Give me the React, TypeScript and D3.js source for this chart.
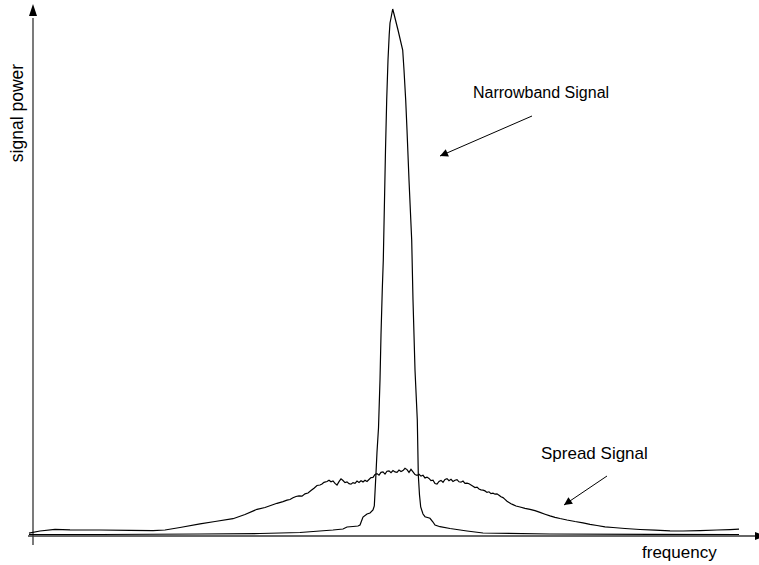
import React from "react";
import * as d3 from "d3";

// Narrowband signal: frequency (arbitrary units) and power
const narrowFreq = [
  -4, 67, 167, 227, 267, 300, 310, 314, 320, 325, 327, 330, 334, 337, 340, 341.3,
  343, 344, 345.5, 347, 348, 349.3, 350.3, 351.5, 352.5, 353.7, 355, 356.2, 357, 358,
  359.7, 361, 365, 369.7, 371, 372.7, 374, 376, 378.7, 380, 382, 384.3, 385.3, 386.5,
  387.7, 390, 392, 397, 400, 402, 407, 417, 434, 450, 517, 617, 706,
];
const narrowPower = [
  1.5, 1.5, 2, 2.5, 3.5, 6, 7, 9, 9.5, 10, 11, 19, 22, 23, 26, 30,
  63, 84, 108, 156, 201, 247, 276, 336, 386, 436, 476, 501, 513, 518,
  527, 522, 506, 486, 466, 436, 406, 356, 296, 236, 166, 116, 61, 41,
  29, 22, 19.3, 17.7, 14, 11, 9.3, 7.5, 5, 3, 2, 1.7, 1.5,
];

// Spread-spectrum signal: same band, power spread wide and low
const spreadFreq = [
  -4, 7, 22, 37, 67, 97, 120, 132, 147, 167, 182, 200, 212, 224, 232, 244,
  250, 254, 257, 260, 263, 266, 269, 272, 275, 278, 281, 284, 287, 289, 291, 294,
  296, 298, 300, 302, 304, 306, 308, 310, 312, 314, 316, 318, 320, 322, 324, 326,
  328, 330, 332, 334, 336, 338, 340, 342, 344, 346, 348, 350, 352, 354, 356, 358,
  360, 362, 364, 366, 368, 370, 372, 374, 376, 378, 380, 382, 384, 386, 388, 390,
  392, 394, 396, 398, 400, 402, 404, 406, 408, 410, 412, 414, 416, 418, 420, 422,
  424, 426, 428, 430, 432, 434, 436, 438, 440, 442, 444, 446, 448, 450, 452, 454,
  456, 458, 460, 462, 464, 466, 468, 470, 472, 474, 476, 478, 480, 483, 487, 492,
  497, 502, 507, 512, 517, 522, 527, 534, 542, 550, 557, 564, 572, 580, 592, 607,
  622, 637, 650, 667, 684, 697, 706,
];
const spreadPower = [
  2.8, 5, 6.7, 6.2, 6, 5.7, 5.3, 6, 8.5, 12.2, 14.5, 17.3, 21.5, 26.7, 28.5, 32.7,
  34.4, 35.8, 36.5, 38.2, 39.5, 40.1, 39.8, 42.2, 43, 45.5, 47.8, 50.5, 51, 52, 53.7, 54.5,
  55.8, 54.2, 55.1, 52.6, 51, 54.4, 57.2, 55.5, 53.4, 54.1, 52.4, 51.8, 53.4, 52.7, 54.9, 53.5,
  55.2, 54.1, 55.8, 54.6, 56.5, 58.4, 58.6, 61.5, 62.4, 60.8, 63.6, 64.1, 61.9, 64.8, 65.2, 63.4,
  65.5, 64.1, 63.7, 65.9, 64.5, 65.4, 67.7, 66.4, 63.6, 66.7, 64.2, 61.4, 60.6, 61.8, 59.9, 60.7,
  58.1, 58.9, 57.6, 55.4, 55.8, 52.5, 51.9, 54.5, 55.6, 53.7, 56.6, 57.4, 55.3, 56.7, 54.5, 55.8,
  56.4, 54.2, 53.8, 55, 52.6, 52.9, 52.2, 51.1, 49.8, 48.5, 48.9, 47, 46.2, 45.8, 45.1, 43.6,
  44.2, 42.4, 42.9, 41.8, 42.2, 40.8, 39.2, 38.4, 36.6, 34.7, 33.5, 32.2, 31.4, 30, 29, 27.7,
  26.7, 25.4, 23.6, 21.8, 20.1, 18.7, 17.5, 16, 14.5, 13.2, 11.7, 10.5, 9.2, 8.5, 7.5, 6.5,
  5.8, 5.2, 5, 5.4, 6, 6.4, 6.8,
];

// Annotation labels and their arrows, in data units
const labels = ["Narrowband Signal", "Spread Signal"];
const labelFreq = [440, 508];
const labelPower = [438, 77];
const labelSize = [16, 17];
const arrowFrom = [[499, 420], [574, 60]];
const arrowTo = [[407, 380], [531, 31]];

const W = 759;
const H = 565;

export default function App() {
  const x = d3.scaleLinear().domain([0, 726]).range([33, 759]);
  const y = d3.scaleLinear().domain([0, 531]).range([536, 5]);

  const line = d3
    .line<[number, number]>()
    .x((d) => x(d[0]))
    .y((d) => y(d[1]));

  const narrow = narrowFreq.map((f, i) => [f, narrowPower[i]] as [number, number]);
  const spread = spreadFreq.map((f, i) => [f, spreadPower[i]] as [number, number]);

  const font = "'Liberation Sans', Arial, Helvetica, sans-serif";
  const axisColor = "#333";

  return (
    <svg
      width={W}
      height={H}
      style={{ position: "absolute", left: 0, top: 0, background: "#fff" }}
    >
      <defs>
        <marker
          id="ah"
          viewBox="0 0 10 10"
          refX="10"
          refY="5"
          markerWidth="10"
          markerHeight="8"
          markerUnits="userSpaceOnUse"
          orient="auto"
        >
          <path d="M0,0 L10,5 L0,10 z" fill="#000" />
        </marker>
      </defs>
      <rect width={W} height={H} fill="#fff" />

      {/* axes */}
      <line x1={x(-5)} x2={x(724)} y1={y(0)} y2={y(0)} stroke={axisColor} strokeWidth={1.3} />
      <path
        d={`M${x(722)},${y(0) - 4} L${x(733)},${y(0)} L${x(722)},${y(0) + 4} z`}
        fill="#000"
      />
      <line x1={x(0)} x2={x(0)} y1={y(-9)} y2={y(518)} stroke={axisColor} strokeWidth={1.3} />
      <path
        d={`M${x(0) - 4},${y(520)} L${x(0)},${y(532)} L${x(0) + 4},${y(520)} z`}
        fill="#000"
      />

      {/* signals */}
      <path d={line(spread) ?? ""} fill="none" stroke="#000" strokeWidth={1.2} />
      <path d={line(narrow) ?? ""} fill="none" stroke="#000" strokeWidth={1.2} />

      {/* annotations */}
      {labels.map((t, i) => (
        <g key={t}>
          <text
            x={x(labelFreq[i])}
            y={y(labelPower[i])}
            fontFamily={font}
            fontSize={labelSize[i]}
            fill="#000"
          >
            {t}
          </text>
          <line
            x1={x(arrowFrom[i][0])}
            y1={y(arrowFrom[i][1])}
            x2={x(arrowTo[i][0])}
            y2={y(arrowTo[i][1])}
            stroke="#000"
            strokeWidth={1}
            markerEnd="url(#ah)"
          />
        </g>
      ))}

      <text x={642} y={558} fontFamily={font} fontSize={17} fill="#000">
        frequency
      </text>
      <text
        transform={`translate(23,113) rotate(-90)`}
        textAnchor="middle"
        fontFamily={font}
        fontSize={17.5}
        fill="#000"
      >
        signal power
      </text>
    </svg>
  );
}
